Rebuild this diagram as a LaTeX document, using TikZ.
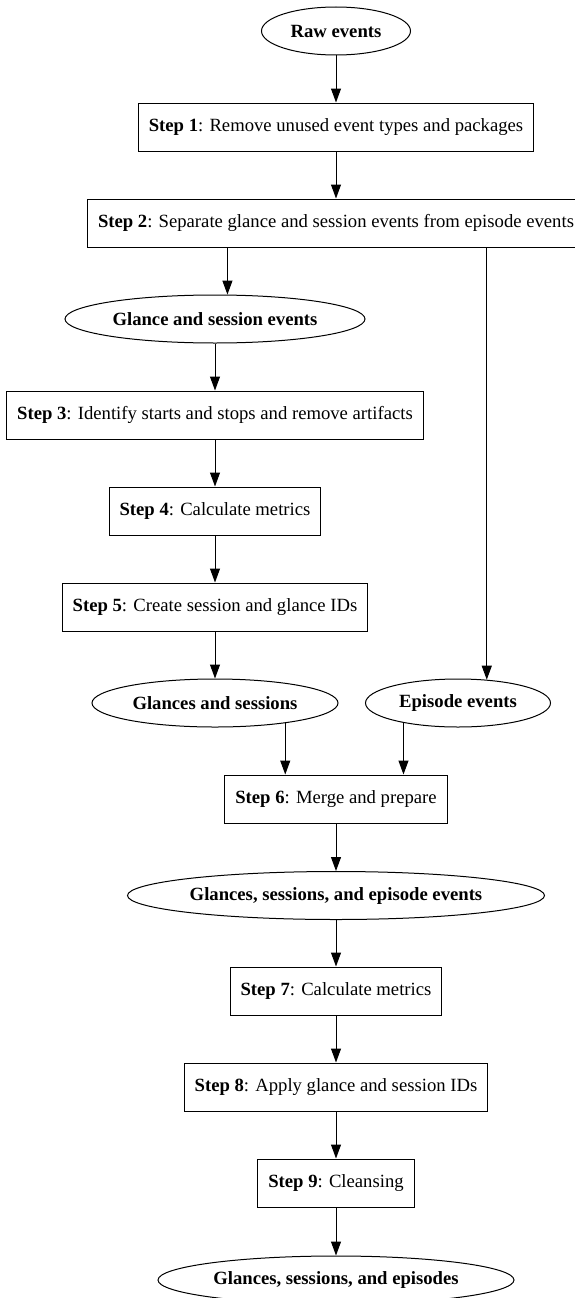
\documentclass[tikz,border=0pt]{standalone}
\usepackage{fontspec}
\setmainfont{Liberation Serif}
\usetikzlibrary{shapes.geometric,arrows.meta}

\begin{document}
\begin{tikzpicture}[x=1pt,y=-1pt,
    stepbox/.style={draw,rectangle,line width=1pt,minimum height=48pt,inner xsep=10.5pt,inner ysep=0pt,
        font=\fontsize{18.67}{22}\selectfont},
    datanode/.style={draw,ellipse,line width=1pt,minimum height=48pt,inner sep=0pt,
        font=\fontsize{18.67}{22}\selectfont\bfseries},
    flow/.style={-{Triangle[length=14pt,width=10pt]},line width=1pt}]
                \useasboundingbox (0,0) rectangle (574,1298);
                % main line
                \node[datanode,minimum width=149pt] (raw) at (336,31) {Raw events};
                \node[stepbox] (s1) at (336,127) {\textbf{Step 1}: Remove unused event types and packages};
                \node[stepbox] (s2) at (336,223) {\textbf{Step 2}: Separate glance and session events from episode events};
                % glance branch
                \node[datanode,minimum width=300pt] (gse) at (215,319) {Glance and session events};
                \node[stepbox] (s3) at (215,415) {\textbf{Step 3}: Identify starts and stops and remove artifacts};
                \node[stepbox] (s4) at (215,511) {\textbf{Step 4}: Calculate metrics};
                \node[stepbox] (s5) at (215,607) {\textbf{Step 5}: Create session and glance IDs};
                \node[datanode,minimum width=246pt] (gs) at (215,703) {Glances and sessions};
                \node[datanode,minimum width=185pt] (ep) at (458,703) {Episode events};
                % merged line
                \node[stepbox] (s6) at (336,799) {\textbf{Step 6}: Merge and prepare};
                \node[datanode,minimum width=417pt] (gsep) at (336,895.5) {Glances, sessions, and episode events};
                \node[stepbox] (s7) at (336,991) {\textbf{Step 7}: Calculate metrics};
                \node[stepbox] (s8) at (336,1087) {\textbf{Step 8}: Apply glance and session IDs};
                \node[stepbox] (s9) at (336,1183) {\textbf{Step 9}: Cleansing};
                \node[datanode,minimum width=356pt] (out) at (336,1280) {Glances, sessions, and episodes};
                \draw[flow] (raw) -- (s1);
                \draw[flow] (s1) -- (s2);
                \draw[flow] (s2.south -| gse.63) -- (gse.63);
                \draw[flow] (s2.south -| ep.39) -- (ep.39);
                \draw[flow] (gse) -- (s3);
                \draw[flow] (s3) -- (s4);
                \draw[flow] (s4) -- (s5);
                \draw[flow] (s5) -- (gs);
                \draw[flow] (gs.-16.5) -- (gs.-16.5 |- s6.north);
                \draw[flow] (ep.200.7) -- (ep.200.7 |- s6.north);
                \draw[flow] (s6) -- (gsep);
                \draw[flow] (gsep) -- (s7);
                \draw[flow] (s7) -- (s8);
                \draw[flow] (s8) -- (s9);
                \draw[flow] (s9) -- (out);
            \end{tikzpicture}
\end{document}
